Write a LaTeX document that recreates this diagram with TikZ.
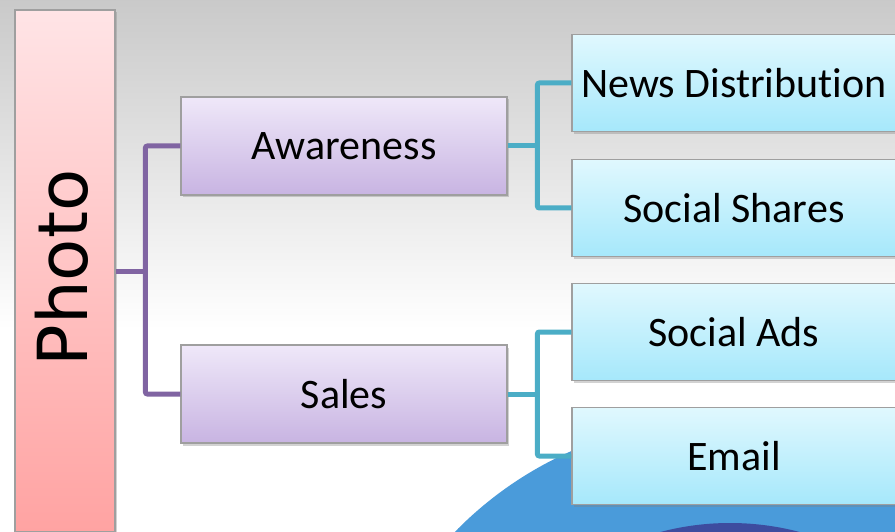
\documentclass[tikz,border=0pt]{standalone}
\usepackage{fontspec}
\setmainfont{Carlito}[Ligatures={NoCommon}]
\newfontfamily\photofont{DejaVu Sans}
\usepackage{tikz}
\usetikzlibrary{shadows}
\definecolor{pinktop}{HTML}{FFE4E6}
\definecolor{pinkbot}{HTML}{FFA3A2}
\definecolor{liltop}{HTML}{EFE8F9}
\definecolor{lilbot}{HTML}{C8B4E2}
\definecolor{skytop}{HTML}{E0F8FE}
\definecolor{skybot}{HTML}{A6E8FB}
\definecolor{purpln}{HTML}{8064A2}
\definecolor{bluln}{HTML}{4BADC6}
\definecolor{globe}{HTML}{4A9BDA}
\definecolor{globein}{HTML}{3D4C9F}
\tikzset{
  shbox/.style={draw=gray!75,line width=1.2pt,inner sep=0pt,
    drop shadow={opacity=0.35,shadow xshift=1.5pt,shadow yshift=-2.5pt}},
  photobox/.style={shbox,top color=pinktop,bottom color=pinkbot,
    minimum width=100pt,minimum height=522pt},
  lvlbox/.style={shbox,top color=liltop,bottom color=lilbot,
    minimum width=326pt,minimum height=98pt,font=\fontsize{42}{48}\selectfont},
  leafbox/.style={shbox,top color=skytop,bottom color=skybot,
    minimum width=324pt,minimum height=97pt,font=\fontsize{42}{48}\selectfont},
  pline/.style={purpln,line width=5pt,rounded corners=2pt},
  bline/.style={bluln,line width=5pt,rounded corners=2pt}
}
\begin{document}
\begin{tikzpicture}[x=1pt,y=-1pt]
\useasboundingbox (0,0) rectangle (895,532);
\clip (0,0) rectangle (895,532);
% backdrop and globe
\fill[white] (0,0) rectangle (895,532);
\fill[top color=black!21,bottom color=white] (0,0) rectangle (895,330);
\fill[globe] (720,790) circle (370pt);
\fill[globein] (730,795) circle (272pt);
% boxes
\node[photobox] (photo) at (65,271) {};
\node[rotate=90,font=\photofont\fontsize{69}{70}\selectfont] at (62,268) {Photo};
\node[lvlbox] (aware) at (344,146) {Awareness};
\node[lvlbox] (sales) at (344,394) {Sales};
\node[leafbox] (news) at (734,83) {News Distribution};
\node[leafbox] (shares) at (734,208) {Social Shares};
\node[leafbox] (ads) at (734,332) {Social Ads};
\node[leafbox] (email) at (734,456) {Email};
% connectors
\draw[pline] (photo.east) -- ++(31,0);
\draw[pline] (aware.west) -- ++(-35,0) |- (sales.west);
\draw[bline] (aware.east) -- ++(31,0);
\draw[bline] (news.west) -- ++(-34,0) |- (shares.west);
\draw[bline] (sales.east) -- ++(31,0);
\draw[bline] (ads.west) -- ++(-34,0) |- (email.west);
\end{tikzpicture}
\end{document}
